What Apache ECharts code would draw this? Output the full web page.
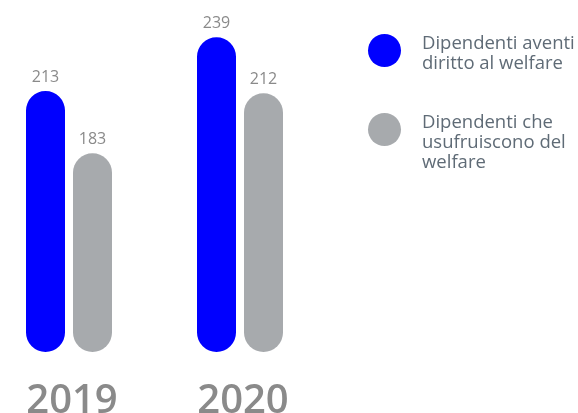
<!DOCTYPE html>
<html>
<head>
<meta charset="utf-8">
<script src="https://cdn.jsdelivr.net/npm/echarts@6/dist/echarts.min.js"></script>
<style>
html,body{margin:0;padding:0;background:#fff;}
#chart{width:578px;height:413px;}
</style>
</head>
<body>
<div id="chart"></div>
<script>
const categories = ['2019', '2020'];
const seriesNames = ['Dipendenti aventi\ndiritto al welfare', 'Dipendenti che\nusufruiscono del\nwelfare'];
const aventiDiritto = [213, 239];
const usufruiscono = [183, 212];

const FONT = '"Open Sans", sans-serif';
const chart = echarts.init(document.getElementById('chart'), null, {renderer: 'canvas'});

const labelCfg = {
  show: true, position: 'top', distance: 6,
  color: '#8a8a8a', fontSize: 16, fontFamily: FONT
};

const legendBase = {
  orient: 'vertical', left: 368, padding: 0,
  icon: 'circle', itemWidth: 33, itemHeight: 33,
  selectedMode: false
};
function legendText(spacer) {
  return {
    fontSize: 18.5, lineHeight: 20, color: '#5f6b76', fontFamily: FONT,
    padding: [0, 0, 0, 16],
    rich: {s: {fontSize: 1, lineHeight: spacer}}
  };
}

chart.setOption({
  animation: false,
  backgroundColor: '#ffffff',
  grid: {left: -16.5, width: 342, top: 0, height: 352, containLabel: false, outerBoundsMode: 'none'},
  legend: [
    Object.assign({}, legendBase, {
      top: 27.5, data: [seriesNames[0]],
      formatter: function (n) { return '{s| }\n' + n; },
      textStyle: legendText(6)
    }),
    Object.assign({}, legendBase, {
      top: 86.5, data: [seriesNames[1]],
      formatter: function (n) { return '{s| }\n' + n; },
      textStyle: legendText(26)
    })
  ],
  xAxis: {
    type: 'category', data: categories,
    axisLine: {show: false}, axisTick: {show: false},
    axisLabel: {fontSize: 40, fontWeight: 600, color: '#8a8a8a', fontFamily: FONT, margin: 30, padding: [0, 0, 0, 6]}
  },
  yAxis: {
    type: 'value', min: 87, max: 257, show: false,
    splitLine: {show: false}
  },
  series: [
    {
      name: seriesNames[0], type: 'bar', data: aventiDiritto,
      barWidth: 39, barGap: '20.5%',
      itemStyle: {color: '#0000ff', borderRadius: 19.5},
      label: labelCfg
    },
    {
      name: seriesNames[1], type: 'bar', data: usufruiscono,
      barWidth: 39,
      itemStyle: {color: '#a7aaad', borderRadius: 19.5},
      label: labelCfg
    }
  ]
});
</script>
</body>
</html>
